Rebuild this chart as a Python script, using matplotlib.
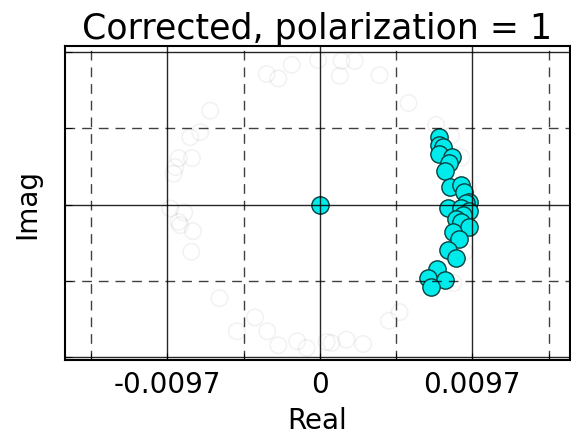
import numpy as np
import matplotlib
matplotlib.use('Agg')
import matplotlib.pyplot as plt
from matplotlib.ticker import FixedLocator

# uncorrected points (faint ghosts)
ghost_re = [-0.00338, -0.00264, -0.00179, -0.00011, 0.00138, 0.00222, 0.00127, 0.00380,
            0.00564, 0.00740, 0.00835, -0.00697, -0.00761, -0.00824, -0.00813, -0.00898,
            -0.00919, -0.00930, -0.00951, -0.00862, -0.00898, -0.00888, -0.00807, -0.00818,
            -0.00638, -0.00412, -0.00528, -0.00334, -0.00264, -0.00144, -0.00084, 0.00042,
            0.00074, 0.00169, 0.00275, 0.00439, 0.00507, 0.00900, 0.00940, 0.00950,
            0.00920, 0.00850, 0.0]
ghost_im = [0.00831, 0.00803, 0.00890, 0.00921, 0.00915, 0.00915, 0.00820, 0.00824,
            0.00647, 0.00507, 0.00439, 0.00598, 0.00461, 0.00429, 0.00296, 0.00296,
            0.00239, 0.00197, -0.00025, -0.00051, -0.00110, -0.00131, -0.00169, -0.00300,
            -0.00596, -0.00718, -0.00807, -0.00807, -0.00896, -0.00870, -0.00913, -0.00875,
            -0.00881, -0.00860, -0.00888, -0.00740, -0.00685, 0.00300, 0.00100, -0.00100,
            -0.00300, -0.00500, 0.0]

# corrected points
corr_re = [0.00756, 0.00756, 0.00782, 0.00761, 0.00841, 0.00824, 0.00793, 0.00829,
           0.00898, 0.00919, 0.00951, 0.00930, 0.00813, 0.00898, 0.00947, 0.00909,
           0.00867, 0.00898, 0.00951, 0.00845, 0.00888, 0.00813, 0.00867, 0.00744,
           0.00687, 0.00793, 0.00708, 0.0]
corr_im = [0.00429, 0.00380, 0.00366, 0.00323, 0.00302, 0.00266, 0.00217, 0.00112,
           0.00122, 0.00081, 0.00017, 0.00013, -0.00021, -0.00021, -0.00042, -0.00068,
           -0.00089, -0.00110, -0.00141, -0.00173, -0.00216, -0.00290, -0.00338, -0.00410,
           -0.00465, -0.00480, -0.00528, 0.0]

tick_val = 0.0097
xticklabels = ['-0.0097', '0', '0.0097']

fig = plt.figure(figsize=(5.71, 4.35), dpi=100)
ax = fig.add_axes([0.114, 0.170, 0.884, 0.722])

ax.scatter(ghost_re, ghost_im, s=140, facecolors='none', edgecolors='k',
           alpha=0.05, linewidths=1.2, zorder=0.5)
ax.scatter(corr_re, corr_im, s=155, facecolors='#00ecec', edgecolors='#0a3f3f',
           linewidths=1.0, zorder=1)

ax.set_xlim(-0.0162, 0.0159)
ax.set_ylim(-0.0099, 0.0101)

ax.xaxis.set_major_locator(FixedLocator([-tick_val, 0, tick_val]))
ax.xaxis.set_minor_locator(FixedLocator([-1.5 * tick_val, -0.5 * tick_val,
                                         0.5 * tick_val, 1.5 * tick_val]))
ax.yaxis.set_major_locator(FixedLocator([-tick_val, 0, tick_val]))
ax.yaxis.set_minor_locator(FixedLocator([-0.5 * tick_val, 0.5 * tick_val]))
ax.set_xticklabels(xticklabels)
ax.set_yticklabels([])

# grid is drawn over the markers, like in the original
ax.set_axisbelow(False)
ax.grid(which='major', color='k', linestyle='-', linewidth=1.0, alpha=0.85, zorder=3)
ax.grid(which='minor', color='k', linestyle=(0, (7, 5)), linewidth=1.0, alpha=0.75, zorder=3)
ax.tick_params(which='both', direction='in', labelsize=20, length=5, pad=7)

for sp in ax.spines.values():
    sp.set_linewidth(1.5)

ax.set_title('Corrected, polarization = 1', fontsize=25, pad=6)
ax.set_xlabel('Real', fontsize=20, labelpad=6)
ax.set_ylabel('Imag', fontsize=20, labelpad=10)

fig.savefig('out.png', dpi=100)
